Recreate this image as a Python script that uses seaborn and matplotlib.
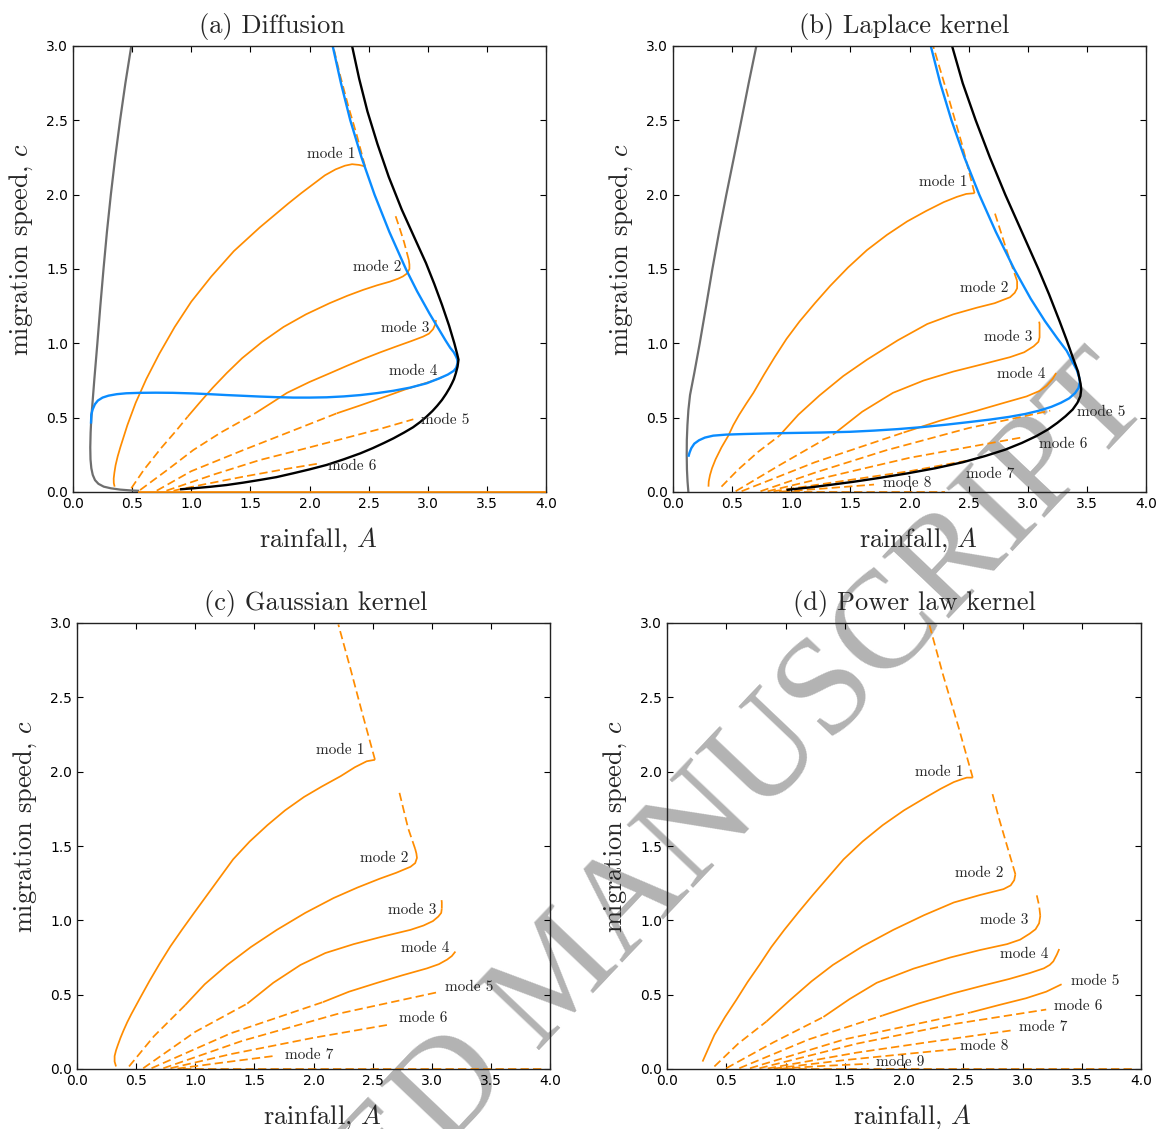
import matplotlib
matplotlib.use("Agg")
import matplotlib.pyplot as plt
import seaborn as sns

# ---------------- data (rainfall A, migration speed c) ----------------
# Panel (a) Diffusion
A_a_gray = [0.493, 0.443, 0.398, 0.357, 0.320, 0.287, 0.258, 0.231, 0.206, 0.180, 0.165, 0.155, 0.149, 0.146, 0.148, 0.155, 0.167, 0.186, 0.215, 0.26, 0.32, 0.40, 0.48, 0.56]
C_a_gray = [3.0, 2.75, 2.5, 2.25, 2.0, 1.75, 1.5, 1.25, 1.0, 0.753, 0.6, 0.5, 0.4, 0.3, 0.22, 0.16, 0.115, 0.08, 0.055, 0.036, 0.025, 0.016, 0.011, 0.008]
A_a_black = [2.36, 2.42, 2.49, 2.575, 2.67, 2.78, 2.905, 2.985, 3.055, 3.12, 3.18, 3.225, 3.248, 3.26, 3.252, 3.238, 3.222, 3.205, 3.185, 3.155, 3.12, 3.08, 3.04, 2.99, 2.935, 2.875, 2.80, 2.71, 2.63, 2.535, 2.43, 2.29, 2.145, 2.0, 1.863, 1.72, 1.58, 1.44, 1.30, 1.16, 1.017, 0.905]
C_a_black = [3.0, 2.78, 2.56, 2.34, 2.12, 1.9, 1.68, 1.54, 1.4, 1.26, 1.12, 1.0, 0.93, 0.89, 0.843, 0.80, 0.76, 0.731, 0.70, 0.66, 0.619, 0.58, 0.545, 0.507, 0.47, 0.435, 0.40, 0.361, 0.33, 0.295, 0.26, 0.22, 0.182, 0.152, 0.126, 0.10, 0.081, 0.063, 0.047, 0.035, 0.025, 0.018]
A_a_blue = [0.152, 0.155, 0.166, 0.185, 0.21, 0.25, 0.30, 0.37, 0.45, 0.564, 0.70, 0.846, 1.017, 1.18, 1.30, 1.44, 1.58, 1.72, 1.863, 2.0, 2.145, 2.29, 2.43, 2.57, 2.71, 2.85, 2.99, 3.10, 3.17, 3.22, 3.24, 3.25, 3.252, 3.25, 3.24, 3.22, 3.19, 3.15, 3.09, 3.015, 2.91, 2.815, 2.675, 2.55, 2.44, 2.345, 2.266, 2.196]
C_a_blue = [0.46, 0.52, 0.555, 0.59, 0.615, 0.635, 0.648, 0.658, 0.664, 0.667, 0.668, 0.667, 0.663, 0.657, 0.652, 0.647, 0.642, 0.638, 0.635, 0.635, 0.637, 0.643, 0.652, 0.665, 0.681, 0.702, 0.731, 0.765, 0.79, 0.815, 0.835, 0.86, 0.87, 0.89, 0.91, 0.94, 0.97, 1.02, 1.10, 1.2, 1.35, 1.5, 1.75, 2.0, 2.25, 2.5, 2.75, 3.0]
A_a_m1 = [0.352, 0.345, 0.344, 0.35, 0.36, 0.378, 0.40, 0.43, 0.46, 0.495, 0.53, 0.575, 0.62, 0.675, 0.73, 0.795, 0.86, 0.93, 1.00, 1.085, 1.17, 1.265, 1.36, 1.47, 1.58, 1.70, 1.82, 1.93, 2.03, 2.13, 2.22, 2.30, 2.36, 2.42, 2.47]
C_a_m1 = [0.036, 0.06, 0.09, 0.13, 0.18, 0.24, 0.30, 0.375, 0.45, 0.525, 0.60, 0.68, 0.76, 0.845, 0.93, 1.02, 1.11, 1.195, 1.28, 1.365, 1.45, 1.535, 1.62, 1.70, 1.78, 1.86, 1.94, 2.01, 2.07, 2.13, 2.17, 2.195, 2.205, 2.20, 2.19]
A_a_m1d = [2.47, 2.40, 2.33, 2.26, 2.20]
C_a_m1d = [2.19, 2.40, 2.59, 2.80, 3.0]
A_a_m2d = [0.493, 0.60, 0.75, 0.87, 0.97]
C_a_m2d = [0.025, 0.15, 0.30, 0.41, 0.507]
A_a_m2 = [0.97, 1.07, 1.18, 1.30, 1.43, 1.60, 1.78, 1.97, 2.17, 2.32, 2.455, 2.57, 2.68, 2.75, 2.79, 2.825, 2.845, 2.845, 2.84]
C_a_m2 = [0.507, 0.60, 0.70, 0.80, 0.90, 1.01, 1.11, 1.195, 1.27, 1.32, 1.36, 1.39, 1.415, 1.435, 1.45, 1.47, 1.50, 1.53, 1.56]
A_a_m2u = [2.84, 2.80, 2.76, 2.72]
C_a_m2u = [1.56, 1.68, 1.78, 1.875]
A_a_m3d = [0.567, 0.80, 1.017, 1.25, 1.54]
C_a_m3d = [0.013, 0.15, 0.282, 0.40, 0.529]
A_a_m3 = [1.54, 1.68, 1.81, 2.0, 2.17, 2.32, 2.455, 2.60, 2.737, 2.86, 2.96, 3.01, 3.045, 3.065, 3.07]
C_a_m3 = [0.529, 0.60, 0.667, 0.74, 0.798, 0.85, 0.895, 0.94, 0.98, 1.015, 1.045, 1.065, 1.095, 1.13, 1.157]
A_a_m4d = [0.708, 1.0, 1.44, 1.85, 2.23]
C_a_m4d = [0.009, 0.14, 0.282, 0.41, 0.529]
A_a_m4 = [2.23, 2.42, 2.60, 2.81, 3.02, 3.09, 3.13]
C_a_m4 = [0.529, 0.58, 0.63, 0.69, 0.742, 0.762, 0.776]
A_a_m5d = [0.79, 1.2, 1.58, 2.0, 2.29, 2.6, 2.878]
C_a_m5d = [0.009, 0.12, 0.215, 0.30, 0.36, 0.425, 0.489]
A_a_m6d = [0.85, 1.1, 1.44, 1.8, 2.09]
C_a_m6d = [0.009, 0.05, 0.103, 0.155, 0.193]
A_a_zero = [0.55, 4.0]
C_a_zero = [0.0, 0.0]

# Panel (b) Laplace kernel
A_b_gray = [0.705, 0.64, 0.578, 0.515, 0.451, 0.39, 0.333, 0.28, 0.226, 0.18, 0.144, 0.13, 0.122, 0.117, 0.116, 0.118, 0.123, 0.13]
C_b_gray = [3.0, 2.75, 2.5, 2.25, 2.0, 1.75, 1.5, 1.25, 1.0, 0.8, 0.652, 0.55, 0.45, 0.35, 0.25, 0.15, 0.07, 0.0]
A_b_black = [2.36, 2.45, 2.56, 2.68, 2.81, 2.95, 3.09, 3.18, 3.27, 3.33, 3.38, 3.425, 3.447, 3.452, 3.445, 3.42, 3.38, 3.32, 3.25, 3.17, 3.07, 2.95, 2.81, 2.64, 2.45, 2.22, 1.98, 1.74, 1.52, 1.33, 1.17, 1.05, 0.96]
C_b_black = [3.0, 2.75, 2.5, 2.25, 2.0, 1.75, 1.5, 1.33, 1.147, 1.02, 0.907, 0.81, 0.727, 0.69, 0.645, 0.60, 0.555, 0.51, 0.465, 0.42, 0.375, 0.33, 0.285, 0.242, 0.20, 0.16, 0.125, 0.094, 0.068, 0.048, 0.032, 0.022, 0.014]
A_b_blue = [0.13, 0.14, 0.155, 0.18, 0.22, 0.27, 0.34, 0.45, 0.60, 0.80, 1.0, 1.25, 1.50, 1.70, 1.90, 2.10, 2.30, 2.50, 2.68, 2.84, 2.98, 3.10, 3.20, 3.28, 3.35, 3.40, 3.43, 3.44, 3.435, 3.415, 3.375, 3.329, 3.253, 3.145, 3.025, 2.885, 2.73, 2.59, 2.465, 2.355, 2.26, 2.18]
C_b_blue = [0.237, 0.265, 0.295, 0.325, 0.348, 0.366, 0.379, 0.386, 0.39, 0.394, 0.397, 0.40, 0.405, 0.413, 0.423, 0.436, 0.452, 0.47, 0.487, 0.505, 0.525, 0.548, 0.573, 0.60, 0.63, 0.665, 0.70, 0.74, 0.77, 0.82, 0.88, 0.95, 1.03, 1.15, 1.3, 1.5, 1.75, 2.0, 2.25, 2.5, 2.75, 3.0]
A_b_m1 = [0.30, 0.302, 0.313, 0.33, 0.36, 0.41, 0.468, 0.51, 0.56, 0.62, 0.68, 0.77, 0.86, 0.96, 1.07, 1.20, 1.33, 1.48, 1.64, 1.81, 1.98, 2.14, 2.29, 2.40, 2.48, 2.55]
C_b_m1 = [0.036, 0.07, 0.114, 0.16, 0.22, 0.30, 0.379, 0.45, 0.52, 0.595, 0.667, 0.79, 0.907, 1.03, 1.147, 1.27, 1.387, 1.51, 1.627, 1.73, 1.82, 1.89, 1.95, 1.985, 2.005, 2.01]
A_b_m1d = [2.55, 2.44, 2.32, 2.20]
C_b_m1d = [2.01, 2.35, 2.68, 3.0]
A_b_m2d = [0.41, 0.55, 0.72, 0.90]
C_b_m2d = [0.036, 0.15, 0.27, 0.379]
A_b_m2 = [0.90, 1.06, 1.24, 1.44, 1.64, 1.90, 2.15, 2.37, 2.57, 2.72, 2.85, 2.89, 2.91, 2.91]
C_b_m2 = [0.379, 0.52, 0.65, 0.78, 0.89, 1.02, 1.13, 1.195, 1.24, 1.27, 1.31, 1.34, 1.37, 1.42]
A_b_m2u = [2.91, 2.84, 2.78, 2.72]
C_b_m2u = [1.42, 1.58, 1.73, 1.88]
A_b_m3d = [0.53, 0.9, 1.36]
C_b_m3d = [0.005, 0.18, 0.39]
A_b_m3 = [1.36, 1.60, 1.86, 2.12, 2.37, 2.62, 2.85, 2.97, 3.05, 3.09, 3.10, 3.10]
C_b_m3 = [0.39, 0.54, 0.667, 0.75, 0.81, 0.86, 0.907, 0.94, 0.98, 1.01, 1.04, 1.09]
A_b_m3u = [3.10, 3.10, 3.09]
C_b_m3u = [1.09, 1.13, 1.17]
A_b_m4d = [0.58, 1.2, 1.95]
C_b_m4d = [0.005, 0.2, 0.40]
A_b_m4 = [1.95, 2.26, 2.57, 2.80, 2.99, 3.10, 3.16, 3.21, 3.24]
C_b_m4 = [0.40, 0.48, 0.547, 0.60, 0.643, 0.68, 0.715, 0.76, 0.80]
A_b_m5d = [0.74, 1.2, 1.8, 2.5, 3.19]
C_b_m5d = [0.005, 0.13, 0.28, 0.43, 0.547]
A_b_m6d = [0.80, 1.3, 2.0, 2.95]
C_b_m6d = [0.005, 0.10, 0.23, 0.367]
A_b_m7d = [0.85, 1.4, 2.0, 2.48]
C_b_m7d = [0.005, 0.07, 0.14, 0.21]
A_b_m8d = [0.92, 1.3, 1.7]
C_b_m8d = [0.003, 0.025, 0.05]
A_b_zero = [0.9, 2.3]
C_b_zero = [0.003, 0.003]

# Panel (c) Gaussian kernel
A_c_m1 = [0.33, 0.318, 0.318, 0.33, 0.345, 0.368, 0.394, 0.425, 0.46, 0.535, 0.615, 0.70, 0.79, 0.887, 0.99, 1.10, 1.21, 1.32, 1.46, 1.61, 1.76, 1.92, 2.07, 2.23, 2.35, 2.45, 2.52]
C_c_m1 = [0.017, 0.05, 0.087, 0.125, 0.16, 0.21, 0.26, 0.315, 0.37, 0.48, 0.595, 0.71, 0.825, 0.936, 1.05, 1.17, 1.29, 1.41, 1.53, 1.64, 1.74, 1.83, 1.90, 1.97, 2.03, 2.07, 2.08]
A_c_m1d = [2.52, 2.41, 2.31, 2.21]
C_c_m1d = [2.08, 2.40, 2.70, 2.99]
A_c_m2d = [0.44, 0.65, 0.915]
C_c_m2d = [0.017, 0.22, 0.43]
A_c_m2 = [0.915, 1.08, 1.27, 1.47, 1.69, 1.93, 2.17, 2.37, 2.56, 2.70, 2.82, 2.86, 2.875, 2.87, 2.86]
C_c_m2 = [0.43, 0.57, 0.70, 0.82, 0.936, 1.05, 1.15, 1.22, 1.28, 1.32, 1.36, 1.385, 1.42, 1.45, 1.48]
A_c_m2u = [2.86, 2.80, 2.76, 2.72]
C_c_m2u = [1.48, 1.62, 1.75, 1.88]
A_c_m3d = [0.56, 1.0, 1.44]
C_c_m3d = [0.005, 0.25, 0.44]
A_c_m3 = [1.44, 1.66, 1.89, 2.10, 2.34, 2.58, 2.82, 2.93, 3.01, 3.055, 3.08, 3.085]
C_c_m3 = [0.44, 0.58, 0.70, 0.78, 0.84, 0.89, 0.936, 0.965, 0.995, 1.025, 1.05, 1.08]
A_c_m3u = [3.085, 3.085, 3.08]
C_c_m3u = [1.08, 1.12, 1.16]
A_c_m4d = [0.63, 1.3, 2.08]
C_c_m4d = [0.005, 0.24, 0.45]
A_c_m4 = [2.08, 2.30, 2.54, 2.75, 2.96, 3.06, 3.13, 3.17, 3.20]
C_c_m4 = [0.45, 0.52, 0.58, 0.63, 0.677, 0.705, 0.736, 0.76, 0.79]
A_c_m5d = [0.73, 1.4, 2.2, 3.07]
C_c_m5d = [0.005, 0.19, 0.37, 0.52]
A_c_m6d = [0.79, 1.3, 2.0, 2.65]
C_c_m6d = [0.005, 0.10, 0.21, 0.30]
A_c_m7d = [0.85, 1.2, 1.66]
C_c_m7d = [0.003, 0.04, 0.087]
A_c_zero = [0.9, 3.95]
C_c_zero = [0.003, 0.003]

# Panel (d) Power law kernel
A_d_m1 = [0.30, 0.35, 0.40, 0.49, 0.585, 0.68, 0.78, 0.88, 0.99, 1.11, 1.23, 1.36, 1.49, 1.65, 1.82, 2.00, 2.19, 2.31, 2.42, 2.49, 2.53, 2.58]
C_d_m1 = [0.05, 0.14, 0.229, 0.35, 0.465, 0.585, 0.70, 0.82, 0.936, 1.055, 1.17, 1.29, 1.41, 1.53, 1.64, 1.74, 1.83, 1.885, 1.93, 1.95, 1.96, 1.96]
A_d_m1d = [2.58, 2.46, 2.33, 2.21]
C_d_m1d = [1.96, 2.30, 2.65, 3.0]
A_d_m2d = [0.40, 0.60, 0.84]
C_d_m2d = [0.017, 0.17, 0.32]
A_d_m2 = [0.84, 1.04, 1.22, 1.40, 1.65, 1.91, 2.17, 2.42, 2.64, 2.84, 2.90, 2.93, 2.94]
C_d_m2 = [0.32, 0.465, 0.59, 0.70, 0.825, 0.936, 1.035, 1.12, 1.17, 1.21, 1.235, 1.27, 1.31]
A_d_m2u = [2.94, 2.87, 2.80, 2.74]
C_d_m2u = [1.31, 1.50, 1.69, 1.87]
A_d_m3d = [0.50, 0.9, 1.32]
C_d_m3d = [0.005, 0.18, 0.35]
A_d_m3 = [1.32, 1.54, 1.77, 2.08, 2.39, 2.64, 2.87, 2.98, 3.06, 3.11, 3.14, 3.15]
C_d_m3 = [0.35, 0.47, 0.58, 0.675, 0.75, 0.80, 0.84, 0.87, 0.91, 0.94, 0.98, 1.03]
A_d_m3u = [3.15, 3.14, 3.12]
C_d_m3u = [1.03, 1.10, 1.17]
A_d_m4d = [0.61, 1.2, 1.82]
C_d_m4d = [0.005, 0.2, 0.36]
A_d_m4 = [1.82, 2.12, 2.42, 2.66, 2.89, 3.06, 3.18, 3.23, 3.26, 3.29, 3.31]
C_d_m4 = [0.36, 0.44, 0.51, 0.56, 0.606, 0.645, 0.677, 0.70, 0.724, 0.77, 0.807]
A_d_m5d = [0.70, 1.5, 2.56]
C_d_m5d = [0.005, 0.2, 0.38]
A_d_m5 = [2.56, 2.80, 3.03, 3.20, 3.33]
C_d_m5 = [0.38, 0.43, 0.476, 0.52, 0.57]
A_d_m6d = [0.78, 1.6, 2.4, 3.20]
C_d_m6d = [0.005, 0.17, 0.30, 0.40]
A_d_m7d = [0.85, 1.6, 2.2, 2.91]
C_d_m7d = [0.004, 0.11, 0.18, 0.26]
A_d_m8d = [0.9, 1.5, 2.0, 2.44]
C_d_m8d = [0.003, 0.06, 0.10, 0.134]
A_d_m9d = [0.95, 1.3, 1.7]
C_d_m9d = [0.002, 0.02, 0.035]
A_d_zero = [1.0, 3.95]
C_d_zero = [0.003, 0.003]

# mode label anchors: (text, A, c, ha)
labels_a = [("mode 1", 2.385, 2.27, "right"), ("mode 2", 2.78, 1.51, "right"),
            ("mode 3", 3.01, 1.10, "right"), ("mode 4", 3.08, 0.81, "right"),
            ("mode 5", 2.94, 0.48, "left"), ("mode 6", 2.16, 0.175, "left")]
labels_b = [("mode 1", 2.49, 2.085, "right"), ("mode 2", 2.84, 1.37, "right"),
            ("mode 3", 3.04, 1.04, "right"), ("mode 4", 3.15, 0.79, "right"),
            ("mode 5", 3.42, 0.54, "left"), ("mode 6", 3.095, 0.32, "left"),
            ("mode 7", 2.48, 0.12, "left"), ("mode 8", 1.78, 0.06, "left")]
labels_c = [("mode 1", 2.43, 2.146, "right"), ("mode 2", 2.80, 1.42, "right"),
            ("mode 3", 3.04, 1.07, "right"), ("mode 4", 3.15, 0.81, "right"),
            ("mode 5", 3.11, 0.55, "left"), ("mode 6", 2.72, 0.34, "left"),
            ("mode 7", 1.76, 0.094, "left")]
labels_d = [("mode 1", 2.50, 2.0, "right"), ("mode 2", 2.84, 1.32, "right"),
            ("mode 3", 3.05, 1.0, "right"), ("mode 4", 3.22, 0.77, "right"),
            ("mode 5", 3.41, 0.59, "left"), ("mode 6", 3.27, 0.42, "left"),
            ("mode 7", 2.97, 0.28, "left"), ("mode 8", 2.47, 0.155, "left"),
            ("mode 9", 1.76, 0.047, "left")]

titles = ["(a) Diffusion", "(b) Laplace kernel", "(c) Gaussian kernel", "(d) Power law kernel"]
x_ticks = [0.0, 0.5, 1.0, 1.5, 2.0, 2.5, 3.0, 3.5, 4.0]
y_ticks = [0.0, 0.5, 1.0, 1.5, 2.0, 2.5, 3.0]

# ---------------- style ----------------
sns.set_theme(style="ticks")
plt.rcParams.update({
    "font.family": ["DejaVu Sans"],
    "mathtext.fontset": "cm",
    "xtick.direction": "in", "ytick.direction": "in",
    "xtick.top": True, "ytick.right": True,
    "xtick.major.size": 4.0, "ytick.major.size": 4.0,
    "xtick.major.width": 0.8, "ytick.major.width": 0.8,
    "xtick.labelsize": 10, "ytick.labelsize": 10,
    "xtick.major.pad": 3.5, "ytick.major.pad": 3.5,
    "xtick.color": "black", "ytick.color": "black",
    "axes.linewidth": 1.0, "axes.edgecolor": "#222222",
    "axes.facecolor": "none", "figure.facecolor": "white",
})

ORANGE = "#ff8c00"
BLUE = "#0a8cff"
GRAY = "#6e6e6e"
BLACK = "#000000"
DASH = (0, (4.8, 2.4))

fig = plt.figure(figsize=(11.59, 11.29), dpi=100)
rects = [[73 / 1159, 1 - 492 / 1129, 473 / 1159, 446 / 1129],
         [673 / 1159, 1 - 492 / 1129, 473 / 1159, 446 / 1129],
         [77 / 1159, 1 - 1069 / 1129, 473 / 1159, 446 / 1129],
         [667 / 1159, 1 - 1069 / 1129, 474 / 1159, 446 / 1129]]
axes = [fig.add_axes(r) for r in rects]


def draw(ax, A, C, color, lw, dashed=False, z=2, clip=True):
    sns.lineplot(x=A, y=C, sort=False, estimator=None, color=color, linewidth=lw,
                 linestyle=DASH if dashed else "-", ax=ax, zorder=z, legend=False)
    ln = ax.get_lines()[-1]
    ln.set_clip_on(clip)
    ln.set_solid_joinstyle("round")
    ln.set_solid_capstyle("butt")


LW_O = 1.25
LW_B = 1.7

# panel a
ax = axes[0]
draw(ax, A_a_gray, C_a_gray, GRAY, 1.6)
for A, C, dsh in [(A_a_m1, C_a_m1, False), (A_a_m1d, C_a_m1d, True),
                  (A_a_m2d, C_a_m2d, True), (A_a_m2, C_a_m2, False), (A_a_m2u, C_a_m2u, True),
                  (A_a_m3d, C_a_m3d, True), (A_a_m3, C_a_m3, False),
                  (A_a_m4d, C_a_m4d, True), (A_a_m4, C_a_m4, False),
                  (A_a_m5d, C_a_m5d, True), (A_a_m6d, C_a_m6d, True)]:
    draw(ax, A, C, ORANGE, LW_O, dsh)
draw(ax, A_a_black, C_a_black, BLACK, LW_B, z=2.2)
draw(ax, A_a_blue, C_a_blue, BLUE, LW_B, z=2.1)
draw(ax, A_a_zero, C_a_zero, ORANGE, LW_O, z=3, clip=False)

# panel b
ax = axes[1]
draw(ax, A_b_gray, C_b_gray, GRAY, 1.6)
for A, C, dsh in [(A_b_m1, C_b_m1, False), (A_b_m1d, C_b_m1d, True),
                  (A_b_m2d, C_b_m2d, True), (A_b_m2, C_b_m2, False), (A_b_m2u, C_b_m2u, True),
                  (A_b_m3d, C_b_m3d, True), (A_b_m3, C_b_m3, False), (A_b_m3u, C_b_m3u, True),
                  (A_b_m4d, C_b_m4d, True), (A_b_m4, C_b_m4, False),
                  (A_b_m5d, C_b_m5d, True), (A_b_m6d, C_b_m6d, True), (A_b_m7d, C_b_m7d, True),
                  (A_b_m8d, C_b_m8d, True), (A_b_zero, C_b_zero, True)]:
    draw(ax, A, C, ORANGE, LW_O, dsh)
draw(ax, A_b_black, C_b_black, BLACK, LW_B, z=2.2)
draw(ax, A_b_blue, C_b_blue, BLUE, LW_B, z=2.1)

# panel c
ax = axes[2]
for A, C, dsh in [(A_c_m1, C_c_m1, False), (A_c_m1d, C_c_m1d, True),
                  (A_c_m2d, C_c_m2d, True), (A_c_m2, C_c_m2, False), (A_c_m2u, C_c_m2u, True),
                  (A_c_m3d, C_c_m3d, True), (A_c_m3, C_c_m3, False), (A_c_m3u, C_c_m3u, True),
                  (A_c_m4d, C_c_m4d, True), (A_c_m4, C_c_m4, False),
                  (A_c_m5d, C_c_m5d, True), (A_c_m6d, C_c_m6d, True), (A_c_m7d, C_c_m7d, True),
                  (A_c_zero, C_c_zero, True)]:
    draw(ax, A, C, ORANGE, LW_O, dsh)

# panel d
ax = axes[3]
for A, C, dsh in [(A_d_m1, C_d_m1, False), (A_d_m1d, C_d_m1d, True),
                  (A_d_m2d, C_d_m2d, True), (A_d_m2, C_d_m2, False), (A_d_m2u, C_d_m2u, True),
                  (A_d_m3d, C_d_m3d, True), (A_d_m3, C_d_m3, False), (A_d_m3u, C_d_m3u, True),
                  (A_d_m4d, C_d_m4d, True), (A_d_m4, C_d_m4, False),
                  (A_d_m5d, C_d_m5d, True), (A_d_m5, C_d_m5, False),
                  (A_d_m6d, C_d_m6d, True), (A_d_m7d, C_d_m7d, True), (A_d_m8d, C_d_m8d, True),
                  (A_d_m9d, C_d_m9d, True), (A_d_zero, C_d_zero, True)]:
    draw(ax, A, C, ORANGE, LW_O, dsh)

title_x = [0.42, 0.488, 0.505, 0.523]
for ax, t, tx, labs in zip(axes, titles, title_x, [labels_a, labels_b, labels_c, labels_d]):
    ax.set_xlim(0, 4)
    ax.set_ylim(0, 3)
    ax.set_xticks(x_ticks)
    ax.set_yticks(y_ticks)
    ax.set_xticklabels([f"{v:.1f}" for v in x_ticks])
    ax.set_yticklabels([f"{v:.1f}" for v in y_ticks])
    ax.set_xlabel("")
    ax.set_ylabel("")
    for sp in ax.spines.values():
        sp.set_visible(True)
    ax.text(tx, 1.029, t, transform=ax.transAxes, ha="center", va="baseline",
            fontsize=19, family="cmr10")
    ax.text(0.518, -0.122, r"rainfall, $A$", transform=ax.transAxes, ha="center",
            va="baseline", fontsize=19, family="cmr10")
    ax.text(-0.095, 0.543, r"migration speed, $c$", transform=ax.transAxes, ha="center",
            va="baseline", rotation=90, rotation_mode="anchor", fontsize=19, family="cmr10")
    for txt, xa, ya, ha in labs:
        ax.text(xa, ya, txt, ha=ha, va="center", fontsize=11, family="cmr10", zorder=5)

fig.text(0.995, 0.643, "ACCEPTED MANUSCRIPT", rotation=46.5, rotation_mode="anchor",
         ha="right", va="baseline", fontsize=100, family="Liberation Serif",
         color="#b3b3b3", zorder=-1)

fig.savefig("out.png", dpi=100)
